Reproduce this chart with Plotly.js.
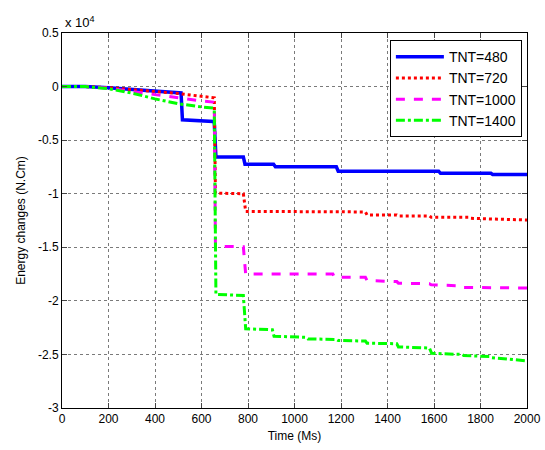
<!DOCTYPE html>
<html>
<head>
<meta charset="utf-8">
<script src="https://cdn.plot.ly/plotly-3.0.1.min.js"></script>
<style>html,body{margin:0;padding:0;background:#fff;}#chart{width:545px;height:450px;}</style>
</head>
<body>
<div id="chart"></div>
<script>
// Energy changes in N.Cm (axis shown in units of 1e4)
const names = ["TNT=480", "TNT=720", "TNT=1000", "TNT=1400"];

const x480 = [0, 100, 200, 300, 400, 500, 512, 518, 650, 655, 662, 780, 787, 910, 918, 1180, 1188, 1620, 1628, 1845, 1852, 2000];
const y480 = [0, 0, -100, -250, -400, -560, -600, -3100, -3250, -3400, -6570, -6570, -7250, -7250, -7480, -7480, -7900, -7900, -8100, -8100, -8200, -8200];

const x720 = [0, 100, 200, 300, 400, 500, 600, 650, 655, 660, 780, 790, 1305, 1312, 1440, 1447, 1580, 1588, 1750, 1758, 2000];
const y720 = [0, 0, -100, -250, -450, -650, -900, -1000, -1050, -9950, -10000, -11650, -11700, -11980, -11980, -12070, -12070, -12200, -12200, -12300, -12450];

const x1000 = [0, 100, 200, 300, 400, 500, 600, 650, 655, 660, 780, 790, 1165, 1172, 1305, 1312, 1440, 1447, 1580, 1588, 1720, 1728, 2000];
const y1000 = [0, 0, -150, -450, -800, -1100, -1350, -1450, -1550, -14900, -14950, -17500, -17500, -17800, -17800, -18100, -18200, -18350, -18400, -18500, -18600, -18750, -18800];

const x1400 = [0, 100, 200, 300, 400, 500, 600, 650, 655, 662, 780, 790, 905, 912, 1050, 1058, 1180, 1188, 1305, 1312, 1440, 1447, 1580, 1590, 1720, 1728, 1840, 1848, 2000];
const y1400 = [0, 0, -200, -600, -1150, -1600, -1900, -2000, -2200, -19400, -19500, -22600, -22700, -23300, -23400, -23550, -23600, -23700, -23750, -23950, -24000, -24300, -24400, -24900, -25000, -25100, -25200, -25300, -25600];

const xTicks = [0, 200, 400, 600, 800, 1000, 1200, 1400, 1600, 1800, 2000];
const yTickVals = [5000, 0, -5000, -10000, -15000, -20000, -25000, -30000];
const yTickText = ["0.5", "0", "-0.5", "-1", "-1.5", "-2", "-2.5", "-3"];

const xs = [x480, x720, x1000, x1400];
const ys = [y480, y720, y1000, y1400];
const colors = ["#0000ff", "#ff0000", "#ff00ff", "#00ff00"];
const dashes = ["solid", "dot", "dash", "dashdot"];
const widths = [3.5, 3, 3, 3];

const traces = names.map((n, i) => ({
  x: xs[i], y: ys[i], name: n, type: "scatter", mode: "lines",
  line: {color: colors[i], dash: dashes[i], width: widths[i]}
}));

const font = {family: "Liberation Sans, Arial, sans-serif", color: "#000"};

const layout = {
  width: 545, height: 450,
  margin: {l: 62, r: 18, t: 33, b: 42},
  paper_bgcolor: "#fff", plot_bgcolor: "#fff",
  font: Object.assign({size: 12}, font),
  showlegend: true,
  legend: {
    x: 0.989, y: 0.981, xanchor: "right", yanchor: "top",
    bgcolor: "#fff", bordercolor: "#000", borderwidth: 1,
    font: Object.assign({size: 14}, font),
    itemwidth: 48,
    tracegroupgap: 0
  },
  xaxis: {
    range: [0, 2000], tickvals: xTicks, ticks: "inside", ticklen: 5,
    showline: true, linecolor: "#000", linewidth: 1, mirror: "ticks",
    showgrid: true, gridcolor: "#7a7a7a", griddash: "dot", gridwidth: 1,
    zeroline: false, tickfont: Object.assign({size: 12}, font),
    title: {text: "Time (Ms)", font: Object.assign({size: 12}, font), standoff: 6}
  },
  yaxis: {
    range: [-30000, 5000], tickvals: yTickVals, ticktext: yTickText,
    ticks: "inside", ticklen: 5,
    showline: true, linecolor: "#000", linewidth: 1, mirror: "ticks",
    showgrid: true, gridcolor: "#7a7a7a", griddash: "dot", gridwidth: 1,
    zeroline: false, tickfont: Object.assign({size: 12}, font),
    title: {text: "Energy changes (N.Cm)", font: Object.assign({size: 12}, font), standoff: 9}
  },
  annotations: [{
    xref: "paper", yref: "paper", x: 0, y: 1, xanchor: "left", yanchor: "bottom",
    yshift: 1, xshift: 1,
    text: "x 10<sup>4</sup>", showarrow: false, font: Object.assign({size: 13}, font)
  }]
};

Plotly.newPlot("chart", traces, layout, {displayModeBar: false, staticPlot: true});
</script>
</body>
</html>
